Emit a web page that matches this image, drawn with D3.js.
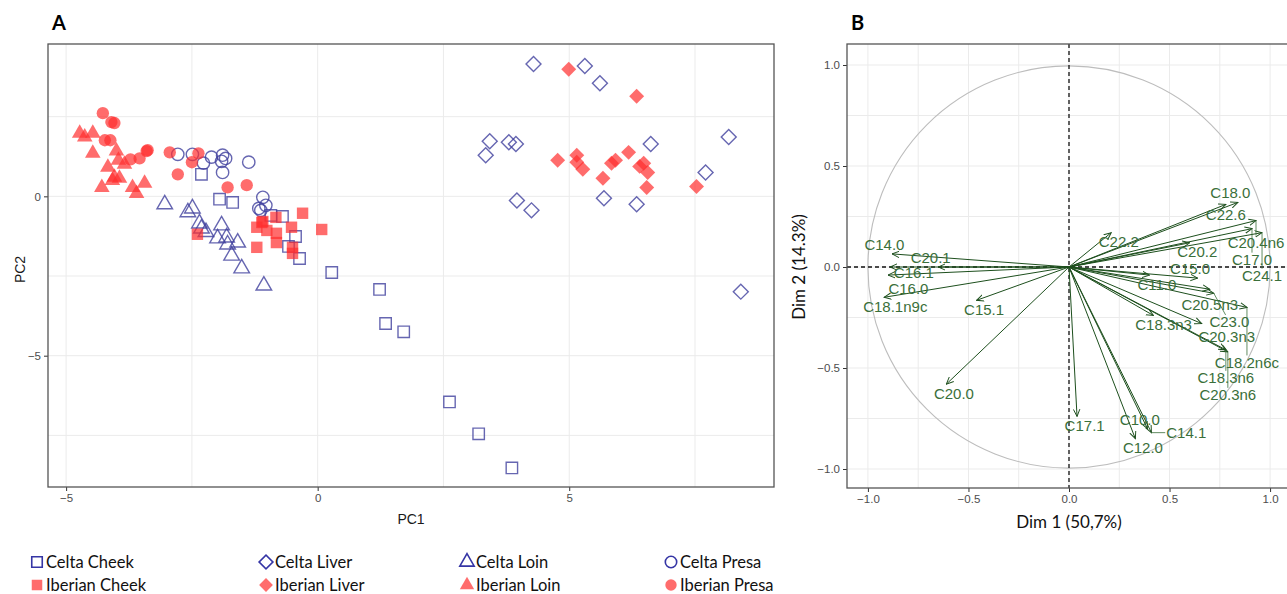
<!DOCTYPE html>
<html>
<head>
<meta charset="utf-8">
<script src="https://cdn.jsdelivr.net/npm/d3@7"></script>
<style>
  body { margin: 0; background: #fff; }
  svg { display: block; font-family: "Liberation Sans", Arial, sans-serif; }
  .grid line { stroke: #ebebeb; stroke-width: 1; }
  .tick text { fill: #4d4d4d; font-size: 11.5px; }
  .tick line { stroke: #333; }
</style>
</head>
<body>
<svg id="chart" width="1287" height="594"></svg>
<script>
// ---- panel A : PCA scores (PC1, PC2) ----
const celtaCheek = [
  [-2.31, 0.69], [-1.95, -0.09], [-1.69, -0.19], [-0.93, -0.60], [-0.70, -0.63],
  [-0.44, -1.26], [-0.58, -1.57], [-0.36, -1.95], [0.28, -2.39], [1.23, -2.92],
  [1.35, -3.99], [1.71, -4.25], [2.62, -6.45], [3.20, -7.45], [3.86, -8.52]
];
const iberianCheek = [
  [-0.30, -0.53], [-0.83, -0.66], [-1.09, -0.79], [-1.21, -0.97], [-1.01, -1.07],
  [-0.52, -0.97], [-0.82, -1.16], [-0.82, -1.45], [-1.21, -1.60], [-0.50, -1.60],
  [-0.50, -1.79], [0.08, -1.04], [-2.39, -1.19], [-1.11, -0.82]
];
const celtaLiver = [
  [4.29, 4.15], [5.31, 4.09], [5.61, 3.55], [3.42, 1.73], [3.80, 1.70],
  [3.94, 1.64], [3.34, 1.29], [6.62, 1.64], [8.17, 1.86], [7.71, 0.75],
  [3.96, -0.13], [4.25, -0.44], [5.69, -0.06], [6.34, -0.25], [8.41, -2.99]
];
const iberianLiver = [
  [4.99, 3.99], [6.34, 3.14], [4.77, 1.13], [5.15, 1.29], [5.15, 1.07],
  [5.27, 0.85], [5.84, 1.04], [5.92, 1.13], [6.18, 1.38], [5.67, 0.57],
  [6.40, 0.94], [6.48, 1.04], [6.56, 0.75], [6.54, 0.28], [7.53, 0.31]
];
const celtaLoin = [
  [-3.04, -0.25], [-2.58, -0.50], [-2.49, -0.38], [-2.35, -0.85], [-2.31, -1.01],
  [-1.91, -0.91], [-1.99, -1.32], [-1.81, -1.29], [-1.59, -1.45], [-1.79, -1.51],
  [-1.71, -1.86], [-1.51, -2.26], [-1.07, -2.80], [-2.22, -1.12]
];
const iberianLoin = [
  [-4.73, 1.98], [-4.63, 1.86], [-4.47, 1.98], [-4.47, 1.35], [-4.00, 1.42],
  [-3.96, 1.13], [-4.17, 0.91], [-3.84, 1.01], [-4.04, 0.60], [-3.94, 0.57],
  [-4.29, 0.28], [-3.68, 0.28], [-3.44, 0.41], [-3.60, 0.09], [-4.08, 0.50]
];
const celtaPresa = [
  [-2.78, 1.32], [-2.49, 1.32], [-2.11, 1.23], [-1.89, 1.29], [-1.83, 1.19],
  [-1.91, 1.10], [-2.27, 1.04], [-1.89, 0.75], [-1.37, 1.07], [-1.09, -0.03],
  [-1.03, -0.28], [-1.17, -0.38], [-1.13, -0.44]
];
const iberianPresa = [
  [-4.27, 2.61], [-4.10, 2.33], [-4.04, 2.30], [-4.23, 1.76], [-4.12, 1.76],
  [-3.40, 1.42], [-3.38, 1.45], [-2.94, 1.38], [-2.37, 1.35], [-3.72, 1.16],
  [-3.54, 1.19], [-2.50, 1.07], [-2.78, 0.69], [-1.79, 0.28], [-1.41, 0.35]
];

// ---- panel B : variable loadings (Dim 1, Dim 2) ----
const varNames = [
  "C14.0", "C16.1", "C16.0", "C18.1n9c", "C20.1", "C15.1", "C20.0",
  "C18.0", "C22.6", "C20.4n6", "C17.0", "C24.1", "C20.2", "C22.2",
  "C15.0", "C20.5n3", "C11.0", "C23.0", "C18.3n3", "C20.3n3", "C18.2n6c",
  "C18.3n6", "C20.3n6", "C17.1", "C10.0", "C12.0", "C14.1"
];
const dim1 = [
  -0.88, -0.89, -0.90, -0.92, -0.65, -0.46, -0.61,
  0.84, 0.78, 0.93, 0.91, 0.96, 0.60, 0.21,
  0.64, 0.70, 0.40, 0.72, 0.42, 0.66, 0.885,
  0.78, 0.79, 0.04, 0.39, 0.33, 0.41
];
const dim2 = [
  0.065, 0.0, -0.04, -0.15, 0.0, -0.165, -0.58,
  0.32, 0.31, 0.23, 0.19, 0.17, 0.12, 0.17,
  -0.055, -0.11, -0.04, -0.13, -0.24, -0.28, -0.20,
  -0.41, -0.42, -0.74, -0.80, -0.85, -0.82
];

const xTicksA = [-5, 0, 5];
const yTicksA = [-5, 0];
const ticksB = [-1, -0.5, 0, 0.5, 1];

const groups = [
  { name: "Celta Cheek", pts: celtaCheek, shape: "square", celta: true },
  { name: "Celta Liver", pts: celtaLiver, shape: "diamond", celta: true },
  { name: "Celta Loin", pts: celtaLoin, shape: "triangle", celta: true },
  { name: "Celta Presa", pts: celtaPresa, shape: "circle", celta: true },
  { name: "Iberian Cheek", pts: iberianCheek, shape: "square", celta: false },
  { name: "Iberian Liver", pts: iberianLiver, shape: "diamond", celta: false },
  { name: "Iberian Loin", pts: iberianLoin, shape: "triangle", celta: false },
  { name: "Iberian Presa", pts: iberianPresa, shape: "circle", celta: false }
];

const svg = d3.select("#chart");
const blue = "#40409e";
const red = "#ff2e2e";
const green = "#1d4f1d";
const labelGreen = "#3a6f3a";

function symbolPath(shape, scale) {
  const s = scale || 1;
  if (shape === "square") return d3.symbol(d3.symbolSquare, 130 * s)();
  if (shape === "diamond") return d3.symbol(d3.symbolSquare, 112 * s)();
  if (shape === "triangle") return d3.symbol(d3.symbolTriangle, 105 * s)();
  return d3.symbol(d3.symbolCircle, 120 * s)();
}

// ================= PANEL A =================
const A = { left: 48, right: 774, top: 44, bottom: 487 };
const xA = d3.scaleLinear().domain([-5.36, 9.07]).range([A.left, A.right]);
const yA = d3.scaleLinear().domain([-9.12, 4.78]).range([A.bottom, A.top]);

const gA = svg.append("g");
const gridA = gA.append("g").attr("class", "grid");
d3.range(-5, 9.1, 2.5).forEach((v) => {
  gridA.append("line").attr("x1", xA(v)).attr("x2", xA(v)).attr("y1", A.top).attr("y2", A.bottom);
});
d3.range(-7.5, 4.8, 2.5).forEach((v) => {
  gridA.append("line").attr("x1", A.left).attr("x2", A.right).attr("y1", yA(v)).attr("y2", yA(v));
});

gA.append("g")
  .attr("transform", `translate(0,${A.bottom})`)
  .call(d3.axisBottom(xA).tickValues(xTicksA).tickSize(4).tickPadding(3).tickFormat(d3.format("d")))
  .call((g) => g.select(".domain").remove());
gA.append("g")
  .attr("transform", `translate(${A.left},0)`)
  .call(d3.axisLeft(yA).tickValues(yTicksA).tickSize(4).tickPadding(3).tickFormat(d3.format("d")))
  .call((g) => g.select(".domain").remove());

const pointsA = gA.append("g");
groups.forEach((grp) => {
  pointsA.selectAll(null)
    .data(grp.pts)
    .enter()
    .append("path")
    .attr("d", symbolPath(grp.shape))
    .attr("transform", (d) =>
      `translate(${xA(d[0])},${yA(d[1])})` + (grp.shape === "diamond" ? " rotate(45)" : ""))
    .attr("fill", grp.celta ? "none" : red)
    .attr("fill-opacity", 0.7)
    .attr("stroke", grp.celta ? blue : "none")
    .attr("stroke-opacity", 0.8)
    .attr("stroke-width", 1.4);
});

gA.append("rect")
  .attr("x", A.left).attr("y", A.top)
  .attr("width", A.right - A.left).attr("height", A.bottom - A.top)
  .attr("fill", "none").attr("stroke", "#555").attr("stroke-width", 1.3);

gA.append("text").text("PC1")
  .attr("x", (A.left + A.right) / 2).attr("y", 524)
  .attr("text-anchor", "middle").attr("font-size", 14).attr("fill", "#1a1a1a");
gA.append("text").text("PC2")
  .attr("transform", `translate(25,${(A.top + A.bottom) / 2 + 4}) rotate(-90)`)
  .attr("text-anchor", "middle").attr("font-size", 14).attr("fill", "#1a1a1a");
gA.append("text").text("A")
  .attr("x", 52).attr("y", 30)
  .attr("font-family", "Lato, sans-serif").attr("font-weight", 700).attr("font-size", 20);

// legend
const legendCols = [37, 266, 467, 671];
const legendRows = [562, 585];
const legend = svg.append("g").attr("font-family", "Lato, sans-serif").attr("font-size", 16.5);
groups.forEach((grp, i) => {
  const x = legendCols[i % 4];
  const y = legendRows[Math.floor(i / 4)];
  legend.append("path")
    .attr("d", symbolPath(grp.shape, 0.85))
    .attr("transform", `translate(${x},${y})` + (grp.shape === "diamond" ? " rotate(45)" : ""))
    .attr("fill", grp.celta ? "none" : red)
    .attr("fill-opacity", 0.7)
    .attr("stroke", grp.celta ? "#3535a5" : "none")
    .attr("stroke-width", 1.6);
  legend.append("text").text(grp.name)
    .attr("x", x + 9).attr("y", y + 6).attr("fill", "#111");
});

// ================= PANEL B =================
const B = { left: 847, right: 1291, top: 44, bottom: 488 };
const xB = d3.scaleLinear().domain([-1.104, 1.104]).range([B.left, B.right]);
const yB = d3.scaleLinear().domain([-1.094, 1.104]).range([B.bottom, B.top]);

const gB = svg.append("g");
svg.append("defs").append("clipPath").attr("id", "clipB")
  .append("rect").attr("x", B.left).attr("y", B.top)
  .attr("width", B.right - B.left).attr("height", B.bottom - B.top);
svg.select("defs").append("marker")
  .attr("id", "arrow").attr("viewBox", "0 0 10 10")
  .attr("refX", 9).attr("refY", 5)
  .attr("markerWidth", 8).attr("markerHeight", 8)
  .attr("markerUnits", "userSpaceOnUse")
  .attr("orient", "auto")
  .append("path").attr("d", "M0,1 L9,5 L0,9")
  .attr("fill", "none").attr("stroke", green).attr("stroke-width", 1.2);

const gridB = gB.append("g").attr("class", "grid");
d3.range(-1, 1.01, 0.25).forEach((v) => {
  gridB.append("line").attr("x1", xB(v)).attr("x2", xB(v)).attr("y1", B.top).attr("y2", B.bottom);
  gridB.append("line").attr("x1", B.left).attr("x2", B.right).attr("y1", yB(v)).attr("y2", yB(v));
});

gB.append("g")
  .attr("transform", `translate(0,${B.bottom})`)
  .call(d3.axisBottom(xB).tickValues(ticksB).tickSize(4).tickPadding(3).tickFormat(d3.format(".1f")))
  .call((g) => g.select(".domain").remove());
gB.append("g")
  .attr("transform", `translate(${B.left},0)`)
  .call(d3.axisLeft(yB).tickValues(ticksB).tickSize(4).tickPadding(3).tickFormat(d3.format(".1f")))
  .call((g) => g.select(".domain").remove());

const inner = gB.append("g").attr("clip-path", "url(#clipB)");
inner.append("circle")
  .attr("cx", xB(0)).attr("cy", yB(0))
  .attr("r", xB(1) - xB(0))
  .attr("fill", "none").attr("stroke", "#bdbdbd").attr("stroke-width", 1.1);
inner.append("line")
  .attr("x1", xB(0)).attr("x2", xB(0)).attr("y1", B.top).attr("y2", B.bottom)
  .attr("stroke", "#111").attr("stroke-dasharray", "4,3").attr("stroke-width", 1.3);
inner.append("line")
  .attr("x1", B.left).attr("x2", B.right).attr("y1", yB(0)).attr("y2", yB(0))
  .attr("stroke", "#111").attr("stroke-dasharray", "4,3").attr("stroke-width", 1.3);

const loadings = varNames.map((n, i) => ({ name: n, x: dim1[i], y: dim2[i] }));

inner.selectAll(".arrow")
  .data(loadings)
  .enter()
  .append("line")
  .attr("class", "arrow")
  .attr("x1", xB(0)).attr("y1", yB(0))
  .attr("x2", (d) => xB(d.x)).attr("y2", (d) => yB(d.y))
  .attr("stroke", green).attr("stroke-width", 1)
  .attr("marker-end", "url(#arrow)");

// labels: greedy placement around each arrow tip, no two labels overlapping
const segG = inner.append("g");
const labelSel = inner.selectAll(".vlab")
  .data(loadings)
  .enter()
  .append("text")
  .attr("class", "vlab")
  .text((d) => d.name)
  .attr("font-size", 15)
  .attr("fill", labelGreen)
  .attr("text-anchor", "middle")
  .attr("dy", "0.35em");

const labs = [];
labelSel.each(function (d) {
  labs.push({ el: this, d, ax: xB(d.x), ay: yB(d.y), w: this.getComputedTextLength() + 2, h: 14 });
});
const tips = labs.map((l) => [l.ax, l.ay]);

const placed = [];
const overlaps = (c, p) =>
  Math.abs(c.x - p.x) < (c.w + p.w) / 2 + 2 && Math.abs(c.y - p.y) < (c.h + p.h) / 2 + 1;

labs.forEach((l) => {
  let best = null;
  for (let r = 0; r <= 70; r += 3) {
    for (let k = 0; k < 16; k++) {
      const th = (k / 16) * 2 * Math.PI + Math.PI / 4;
      const c = {
        x: l.ax + Math.cos(th) * (l.w / 2 * 0.8 + r),
        y: l.ay + Math.sin(th) * (l.h / 2 + r),
        w: l.w, h: l.h
      };
      if (c.x - c.w / 2 < B.left + 2 || c.x + c.w / 2 > 1286) continue;
      if (placed.some((p) => overlaps(c, p))) continue;
      const covered = tips.filter((t) =>
        Math.abs(t[0] - c.x) < c.w / 2 + 2 && Math.abs(t[1] - c.y) < c.h / 2 + 2).length;
      const cost = r + covered * 14;
      if (!best || cost < best.cost) best = { ...c, cost, r };
    }
  }
  l.px = best.x; l.py = best.y; l.r = best.r;
  placed.push(best);
});

labs.forEach((l) => {
  d3.select(l.el).attr("x", l.px).attr("y", l.py);
  if (l.r > 12) {
    // segment from the tip to the edge of the label box
    const dx = l.px - l.ax, dy = l.py - l.ay;
    const t = 1 - Math.min(l.w / 2 / Math.abs(dx || 1e-6), l.h / 2 / Math.abs(dy || 1e-6), 1);
    segG.append("line")
      .attr("x1", l.ax).attr("y1", l.ay)
      .attr("x2", l.ax + dx * t).attr("y2", l.ay + dy * t)
      .attr("stroke", labelGreen).attr("stroke-width", 0.8);
  }
});

gB.append("rect")
  .attr("x", B.left).attr("y", B.top)
  .attr("width", B.right - B.left).attr("height", B.bottom - B.top)
  .attr("fill", "none").attr("stroke", "#555").attr("stroke-width", 1.3);

gB.append("text").text("Dim 1 (50,7%)")
  .attr("x", xB(0)).attr("y", 528)
  .attr("text-anchor", "middle").attr("font-family", "Lato, sans-serif")
  .attr("font-size", 17).attr("fill", "#111");
gB.append("text").text("Dim 2 (14.3%)")
  .attr("transform", `translate(805,${yB(0)}) rotate(-90)`)
  .attr("text-anchor", "middle").attr("font-family", "Lato, sans-serif")
  .attr("font-size", 17).attr("fill", "#111");
gB.append("text").text("B")
  .attr("x", 851).attr("y", 30)
  .attr("font-family", "Lato, sans-serif").attr("font-weight", 700).attr("font-size", 20);
</script>
</body>
</html>
